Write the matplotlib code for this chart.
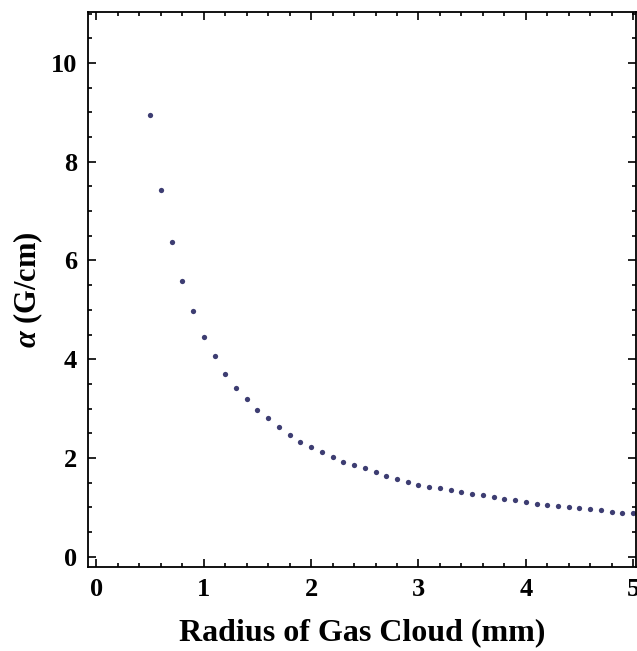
import numpy as np
import matplotlib
matplotlib.use("Agg")
import matplotlib.pyplot as plt
from matplotlib.ticker import MultipleLocator

# data
radius = [0.5, 0.6, 0.7, 0.8, 0.9, 1.0, 1.1, 1.2, 1.3, 1.4,
          1.5, 1.6, 1.7, 1.8, 1.9, 2.0, 2.1, 2.2, 2.3, 2.4,
          2.5, 2.6, 2.7, 2.8, 2.9, 3.0, 3.1, 3.2, 3.3, 3.4,
          3.5, 3.6, 3.7, 3.8, 3.9, 4.0, 4.1, 4.2, 4.3, 4.4,
          4.5, 4.6, 4.7, 4.8, 4.9, 5.0]
alpha = [8.95, 7.42, 6.38, 5.58, 4.97, 4.46, 4.06, 3.70, 3.41, 3.19,
         2.98, 2.81, 2.62, 2.47, 2.33, 2.22, 2.12, 2.01, 1.91, 1.86,
         1.79, 1.71, 1.64, 1.58, 1.52, 1.45, 1.42, 1.39, 1.35, 1.30,
         1.27, 1.24, 1.20, 1.16, 1.14, 1.10, 1.07, 1.05, 1.03, 1.00,
         0.98, 0.96, 0.95, 0.91, 0.89, 0.88]
xticks = [0, 1, 2, 3, 4, 5]
yticks = [0, 2, 4, 6, 8, 10]

plt.rcParams['font.family'] = ['Liberation Serif', 'DejaVu Serif']
plt.rcParams['font.weight'] = 'bold'
plt.rcParams['mathtext.fontset'] = 'custom'
plt.rcParams['mathtext.it'] = 'Liberation Serif:italic:bold'
plt.rcParams['mathtext.rm'] = 'Liberation Serif:bold'

fig = plt.figure(figsize=(6.37, 6.51), dpi=100)
ax = fig.add_axes([0.138, 0.129, 0.861, 0.853])

ax.plot(radius, alpha, 'o', color='#3d3d72', markersize=3.8, markeredgewidth=0)

ax.set_xlim(-0.08, 5.03)
ax.set_ylim(-0.21, 11.04)
ax.set_xticks(xticks)
ax.set_yticks(yticks)
ax.xaxis.set_minor_locator(MultipleLocator(0.2))
ax.yaxis.set_minor_locator(MultipleLocator(0.5))
ax.tick_params(which='both', direction='in', top=True, right=True, width=1.2)
ax.tick_params(which='major', length=6, labelsize=19, pad=8)
ax.tick_params(which='minor', length=3)
for lab in ax.get_xticklabels() + ax.get_yticklabels():
    lab.set_fontweight('bold')
for s in ax.spines.values():
    s.set_linewidth(1.3)

ax.set_xlabel('Radius of Gas Cloud (mm)', fontsize=23, fontweight='bold', labelpad=12)
ax.set_ylabel(r'$\alpha$ (G/cm)', fontsize=22, fontweight='bold', labelpad=4)

fig.savefig('out.png', dpi=100)
